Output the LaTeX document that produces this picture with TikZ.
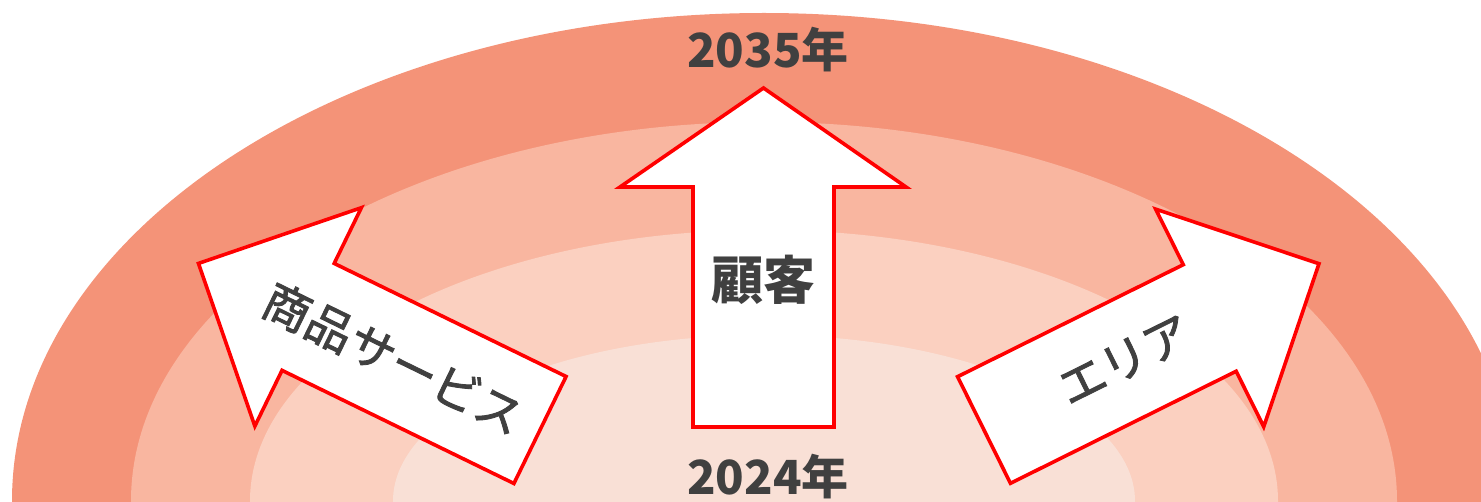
\documentclass[tikz,border=0pt]{standalone}
\usepackage{fontspec}
\setmainfont{Noto Sans CJK JP}
\newfontfamily\jpthick{Noto Sans CJK JP}[FakeBold=1.8]
\usepackage{xcolor}
\definecolor{ringA}{HTML}{F49378}
\definecolor{ringB}{HTML}{F9B6A0}
\definecolor{ringC}{HTML}{FBD0C0}
\definecolor{ringD}{HTML}{F9E0D6}
\definecolor{txtgray}{HTML}{404040}

\begin{document}
\begin{tikzpicture}[x=1pt, y=1pt, text=txtgray,
        arrowline/.style={draw=red, fill=white, line width=3.6pt},
        yearlbl/.style={font=\fontsize{47}{50}\selectfont\bfseries},
        sidelbl/.style={font=\fontsize{47}{50}\selectfont\jpthick}]
            \useasboundingbox (0, 0) rectangle (1481, 501);
            \clip (0, 0) rectangle (1481, 501);

            \fill[ringA] (764, 0) ellipse (752 and 488);
            \fill[ringB] (764, 0) ellipse (633 and 379);
            \fill[ringC] (764, 0) ellipse (514 and 271);
            \fill[ringD] (764, 0) ellipse (371 and 166);

            \node[yearlbl] (y2035) at (768, 451) {2035年};
            \node[yearlbl] (y2024) at (768, 24) {2024年};

            \draw[arrowline] (693, 74) -- (834, 74) -- (834, 314) -- (906, 314) -- (763.5, 413) -- (620, 314) -- (693, 314) -- cycle;
            \node[font=\fontsize{52}{56}\selectfont\bfseries] (kokyaku) at (763.5, 221) {顧客};

            \begin{scope}[shift={(540, 71)}, rotate=154]
                \draw[arrowline] (0, -59.5) -- (258, -59.5) -- (258, -121.5) -- (380, 0) -- (258, 121.5) -- (258, 59.5) -- (0, 59.5) -- cycle;
                \node[sidelbl, rotate=-26] (shohin) at (163, 0) {商品サービス};
            \end{scope}

            \begin{scope}[shift={(984, 71)}, rotate=26.4]
                \draw[arrowline] (0, -59.5) -- (252, -59.5) -- (252, -121.5) -- (374, 0) -- (252, 121.5) -- (252, 59.5) -- (0, 59.5) -- cycle;
                \node[sidelbl, rotate=26.4] (area) at (157, 0) {エリア};
            \end{scope}
        \end{tikzpicture}
\end{document}
